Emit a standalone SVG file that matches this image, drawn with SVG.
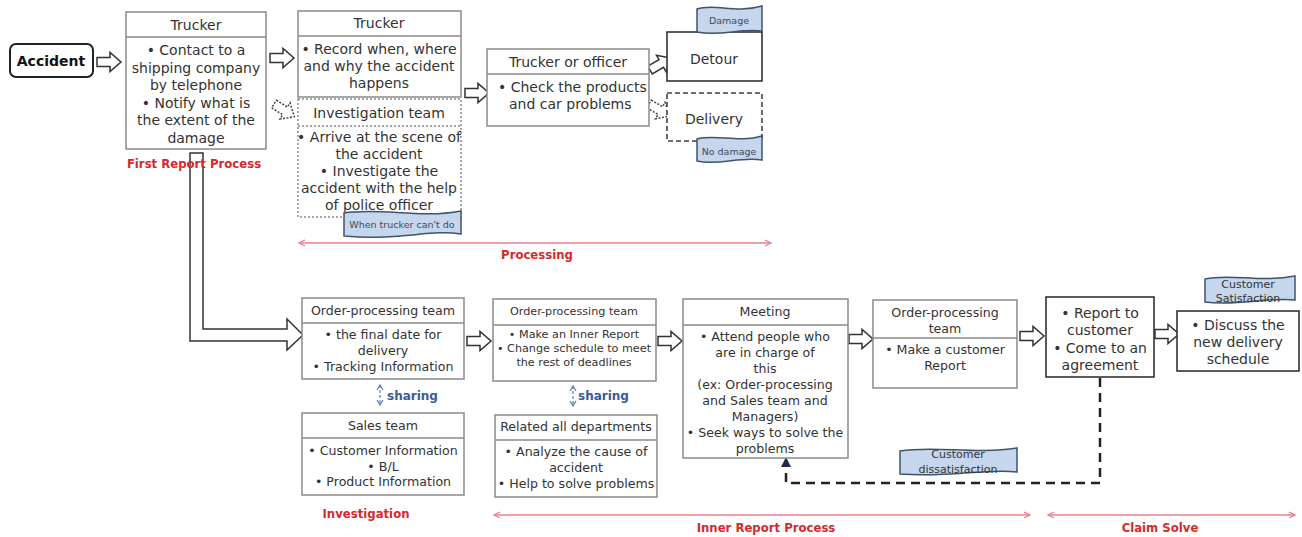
<svg xmlns="http://www.w3.org/2000/svg" width="1302" height="537" viewBox="0 0 1302 537">
<style>
text{font-family:"DejaVu Sans","Liberation Sans",sans-serif;fill:#333;}
.b{font-size:12.6px;text-anchor:middle;}
.s{font-size:11.2px;text-anchor:middle;}
.big{font-size:14px;text-anchor:middle;}
.box{fill:#fff;stroke:#8a8a8a;stroke-width:1.5;}
.dark{fill:#fff;stroke:#333;stroke-width:1.6;}
.div{stroke:#8a8a8a;stroke-width:1.5;}
.dot{fill:#fff;stroke:#8a8a8a;stroke-width:1.5;stroke-dasharray:2 2;}
.dash{fill:#fff;stroke:#444;stroke-width:1.6;stroke-dasharray:5 3;}
.ba{fill:#fff;stroke:#333;stroke-width:1.5;}
.bad{fill:#fff;stroke:#444;stroke-width:1.5;stroke-dasharray:2 1.5;}
.tag{fill:#c6d6ec;stroke:#3d5470;stroke-width:1.5;}
.tagt{font-size:9.5px;text-anchor:middle;fill:#3d4a5c;}
.tg{font-size:11px;text-anchor:middle;fill:#333;}
.red{font-size:11.7px;font-weight:bold;fill:#d42a2a;text-anchor:middle;}
.pink{stroke:#e8808f;stroke-width:1.3;fill:none;marker-start:url(#ps);marker-end:url(#pe);}
.share{font-size:12px;font-weight:bold;fill:#3b5b9a;}
.sh{stroke:#5b7bb8;stroke-width:1.2;stroke-dasharray:3 2;fill:none;marker-start:url(#bs);marker-end:url(#be);}
</style>
<defs>
<path id="arr" d="M0,-4.5 H13 V-9.5 L24,0 L13,9.5 V4.5 H0 Z"/>
<marker id="pe" markerWidth="8" markerHeight="8" refX="7" refY="4" orient="auto" markerUnits="userSpaceOnUse"><path d="M1,1 L7,4 L1,7" fill="none" stroke="#e8808f" stroke-width="1.3"/></marker>
<marker id="ps" markerWidth="8" markerHeight="8" refX="1" refY="4" orient="auto" markerUnits="userSpaceOnUse"><path d="M7,1 L1,4 L7,7" fill="none" stroke="#e8808f" stroke-width="1.3"/></marker>
<marker id="be" markerWidth="8" markerHeight="8" refX="6" refY="4" orient="auto" markerUnits="userSpaceOnUse"><path d="M1,1 L6,4 L1,7" fill="none" stroke="#5b7bb8" stroke-width="1.2"/></marker>
<marker id="bs" markerWidth="8" markerHeight="8" refX="2" refY="4" orient="auto" markerUnits="userSpaceOnUse"><path d="M7,1 L2,4 L7,7" fill="none" stroke="#5b7bb8" stroke-width="1.2"/></marker>
<marker id="dk" markerWidth="10" markerHeight="10" refX="5" refY="5" orient="auto" markerUnits="userSpaceOnUse"><path d="M0,0 L10,5 L0,10 Z" fill="#1f2a44"/></marker>
</defs>

<g id="connectors">
<use href="#arr" class="ba" transform="translate(97,62)"/>
<use href="#arr" class="ba" transform="translate(270,58)"/>
<use href="#arr" class="bad" transform="translate(274,104) rotate(32)"/>
<use href="#arr" class="ba" transform="translate(465,93)"/>
<use href="#arr" class="ba" transform="translate(650,70) rotate(-30)"/>
<use href="#arr" class="bad" transform="translate(649,104) rotate(30)"/>
<path d="M190,153 V341 H287 V350 L303,335 L287,319 V329 H203 V153 Z" class="ba"/>
<use href="#arr" class="ba" transform="translate(467,341)"/>
<use href="#arr" class="ba" transform="translate(658,341)"/>
<use href="#arr" class="ba" transform="translate(849,339)"/>
<use href="#arr" class="ba" transform="translate(1020,336)"/>
<use href="#arr" class="ba" transform="translate(1155,334)"/>
<path d="M380,385 V405" class="sh"/>
<path d="M573,386 V406" class="sh"/>
<path d="M1100,378 V483 H786 V462" fill="none" stroke="#222" stroke-width="2.5" stroke-dasharray="9 6" marker-end="url(#dk)"/>
<path d="M299,243 H771" class="pink"/>
<path d="M494,515 H1030" class="pink"/>
<path d="M1048,515 H1295" class="pink"/>
</g>

<g id="accident">
<rect x="10" y="44" width="83" height="33" rx="6" fill="#fff" stroke="#222" stroke-width="2"/>
<text x="51" y="66" style="font-size:14px;font-weight:bold;text-anchor:middle;fill:#111">Accident</text>
</g>

<g id="trucker1">
<rect x="126" y="12" width="140" height="137" class="box"/>
<line x1="126" y1="37" x2="266" y2="37" class="div"/>
<text x="196" y="30" class="big">Trucker</text>
<text x="196" y="55" class="big">• Contact to a</text>
<text x="196" y="72.5" class="big">shipping company</text>
<text x="196" y="90" class="big">by telephone</text>
<text x="196" y="107.5" class="big">• Notify what is</text>
<text x="196" y="125" class="big">the extent of the</text>
<text x="196" y="142.5" class="big">damage</text>
</g>
<text x="194" y="168" class="red">First Report Process</text>

<g id="trucker2">
<rect x="298" y="11" width="163" height="86" class="box"/>
<line x1="298" y1="36" x2="461" y2="36" class="div"/>
<text x="379" y="28" class="big">Trucker</text>
<text x="379" y="54" class="big">• Record when, where</text>
<text x="379" y="71" class="big">and why the accident</text>
<text x="379" y="88" class="big">happens</text>
</g>

<g id="investigation-team">
<rect x="298" y="99" width="163" height="118" class="dot"/>
<line x1="298" y1="126" x2="461" y2="126" stroke="#8a8a8a" stroke-width="1.5" stroke-dasharray="2 2"/>
<text x="379" y="118" class="big">Investigation team</text>
<text x="379" y="142" class="big">• Arrive at the scene of</text>
<text x="379" y="159" class="big">the accident</text>
<text x="379" y="176" class="big">• Investigate the</text>
<text x="379" y="193" class="big">accident with the help</text>
<text x="379" y="210" class="big">of police officer</text>
</g>
<g id="tag-cant">
<path d="M344,213 C380,207 420,219 461,211 V234 C430,229 400,241 344,236 Z" class="tag"/>
<text x="402" y="228" class="tagt">When trucker can't do</text>
</g>

<g id="trucker-officer">
<rect x="487" y="49" width="162" height="77" class="box"/>
<line x1="487" y1="74" x2="649" y2="74" class="div"/>
<text x="568" y="67" class="big">Trucker or officer</text>
<text x="498" y="92" style="font-size:14px">• Check the products</text>
<text x="509" y="109" style="font-size:14px">and car problems</text>
</g>

<g id="detour">
<rect x="667" y="32" width="95" height="49" class="dark"/>
<text x="714" y="64" class="big">Detour</text>
</g>
<g id="tag-damage">
<path d="M697,9 C715,3 735,14 762,6 V31 C740,28 720,37 697,32 Z" class="tag"/>
<text x="729" y="24" class="tagt">Damage</text>
</g>
<g id="delivery">
<rect x="667" y="93" width="95" height="48" class="dash"/>
<text x="714" y="124" class="big">Delivery</text>
</g>
<g id="tag-nodamage">
<path d="M697,139 C715,134 740,143 762,136 V160 C740,156 720,166 697,161 Z" class="tag"/>
<text x="729" y="155" class="tagt">No damage</text>
</g>
<text x="537" y="259" class="red">Processing</text>

<g id="op1">
<rect x="302" y="298" width="162" height="81" class="box"/>
<line x1="302" y1="323" x2="464" y2="323" class="div"/>
<text x="383" y="315" class="b">Order-processing team</text>
<text x="383" y="339" class="b">• the final date for</text>
<text x="383" y="355" class="b">delivery</text>
<text x="383" y="371" class="b">• Tracking Information</text>
</g>
<text x="387" y="400" class="share">sharing</text>
<g id="sales">
<rect x="302" y="413" width="162" height="82" class="box"/>
<line x1="302" y1="438" x2="464" y2="438" class="div"/>
<text x="383" y="430" class="b">Sales team</text>
<text x="383" y="455" class="b">• Customer Information</text>
<text x="383" y="470.5" class="b">• B/L</text>
<text x="383" y="486" class="b">• Product Information</text>
</g>
<text x="366" y="518" class="red">Investigation</text>

<g id="op2">
<rect x="493" y="299" width="163" height="82" class="box"/>
<line x1="493" y1="325" x2="656" y2="325" class="div"/>
<text x="574" y="315" class="s">Order-processing team</text>
<text x="574" y="338" class="s">• Make an Inner Report</text>
<text x="574" y="352" class="s">• Change schedule to meet</text>
<text x="574" y="366" class="s">the rest of deadlines</text>
</g>
<text x="578" y="400" class="share">sharing</text>
<g id="related">
<rect x="495" y="415" width="162" height="82" class="box"/>
<line x1="495" y1="440" x2="657" y2="440" class="div"/>
<text x="576" y="431" class="b">Related all departments</text>
<text x="576" y="456" class="b">• Analyze the cause of</text>
<text x="576" y="471.5" class="b">accident</text>
<text x="576" y="488" class="b">• Help to solve problems</text>
</g>

<g id="meeting">
<rect x="683" y="299" width="165" height="159" class="box"/>
<line x1="683" y1="325" x2="848" y2="325" class="div"/>
<text x="765" y="316" class="b">Meeting</text>
<text x="765" y="341" class="b">• Attend people who</text>
<text x="765" y="357" class="b">are in charge of</text>
<text x="765" y="373" class="b">this</text>
<text x="765" y="389" class="b">(ex: Order-processing</text>
<text x="765" y="405" class="b">and Sales team and</text>
<text x="765" y="421" class="b">Managers)</text>
<text x="765" y="437" class="b">• Seek ways to solve the</text>
<text x="765" y="453" class="b">problems</text>
</g>

<g id="op3">
<rect x="873" y="300" width="144" height="88" class="box"/>
<line x1="873" y1="338" x2="1017" y2="338" class="div"/>
<text x="945" y="317" class="b">Order-processing</text>
<text x="945" y="333" class="b">team</text>
<text x="945" y="354" class="b">• Make a customer</text>
<text x="945" y="370" class="b">Report</text>
</g>

<g id="report">
<rect x="1046" y="297" width="108" height="80" class="dark"/>
<text x="1100" y="318" class="big">• Report to</text>
<text x="1100" y="335" class="big">customer</text>
<text x="1100" y="353" class="big">• Come to an</text>
<text x="1100" y="370" class="big">agreement</text>
</g>

<g id="discuss">
<rect x="1177" y="311" width="122" height="60" class="dark"/>
<text x="1238" y="330" class="big">• Discuss the</text>
<text x="1238" y="347" class="big">new delivery</text>
<text x="1238" y="364" class="big">schedule</text>
</g>
<g id="tag-satisfaction">
<path d="M1205,279 C1230,273 1260,283 1295,276 V300 C1265,297 1240,306 1205,302 Z" class="tag"/>
<text x="1248" y="288" class="tg">Customer</text>
<text x="1248" y="302" class="tg">Satisfaction</text>
</g>
<g id="tag-dissatisfaction">
<path d="M900,451 C935,445 975,455 1017,448 V472 C985,468 950,478 900,474 Z" class="tag"/>
<text x="958" y="458" class="tg">Customer</text>
<text x="958" y="473" class="tg">dissatisfaction</text>
</g>

<text x="766" y="532" class="red">Inner Report Process</text>
<text x="1160" y="532" class="red">Claim Solve</text>
</svg>
